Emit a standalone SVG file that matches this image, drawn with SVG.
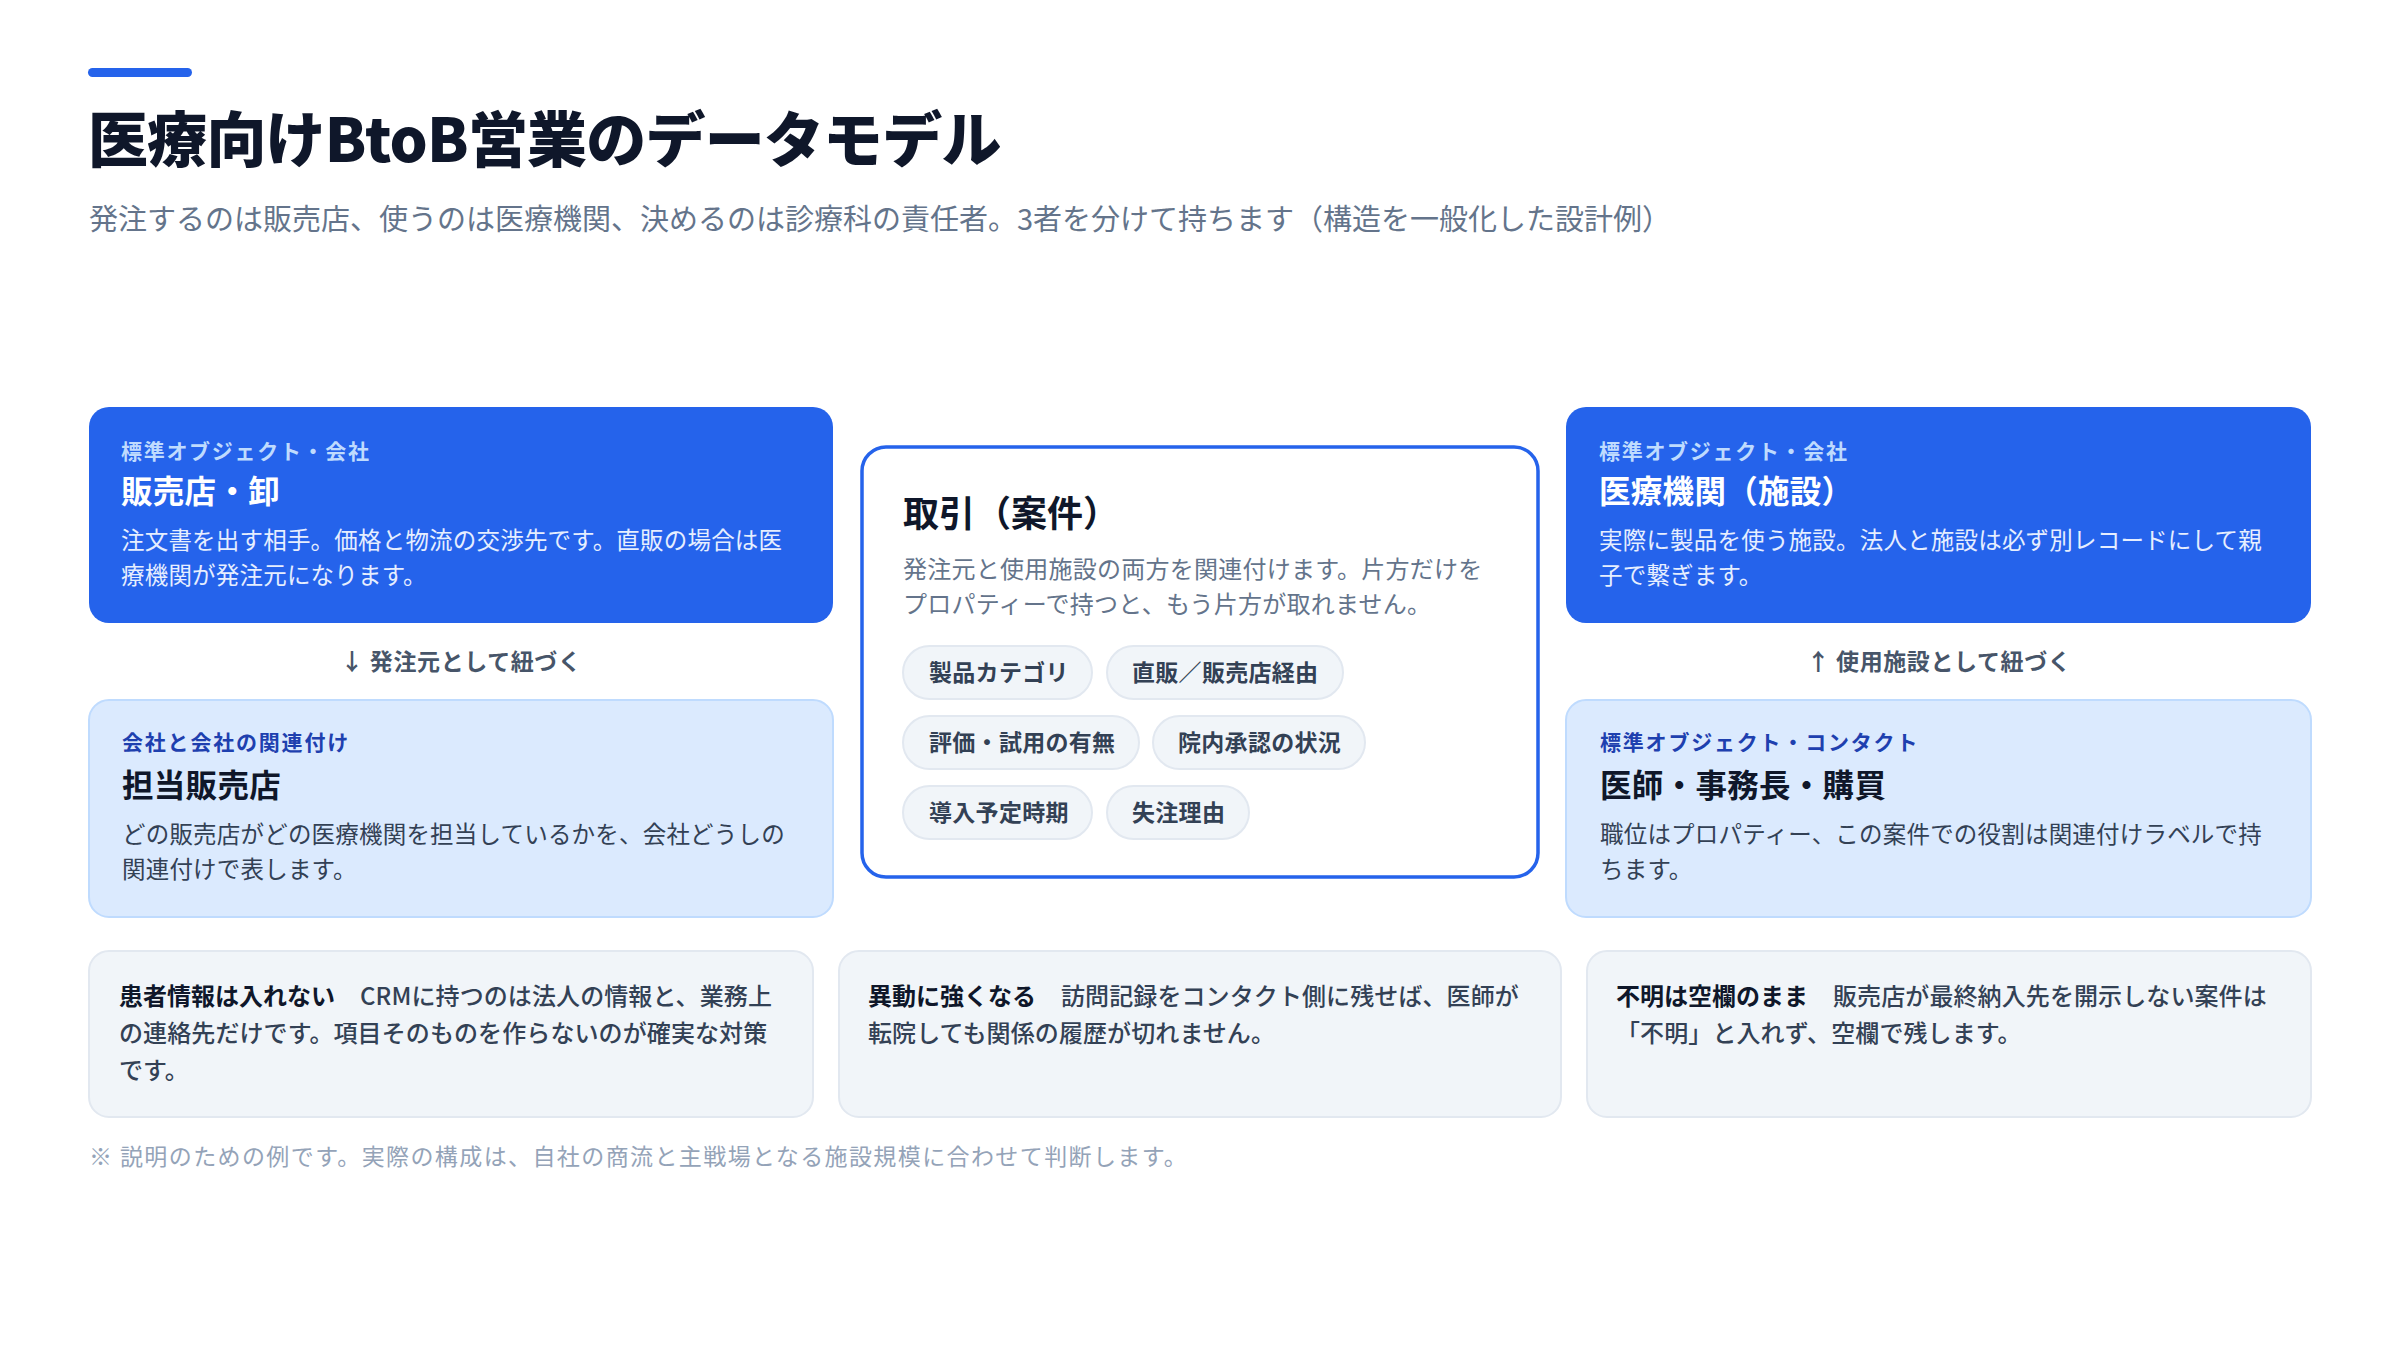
<svg xmlns="http://www.w3.org/2000/svg" width="2400" height="1350" viewBox="0 0 2400 1350">
<style>
text{font-family:"Noto Sans CJK JP","Noto Sans",sans-serif;}
.title{font-size:60px;font-weight:900;fill:#0f172a;letter-spacing:-0.8px;}
.sub{font-size:29px;fill:#64748b;}
.cardB{fill:#2563eb;}
.cardL{fill:#dbeafe;stroke:#bfdbfe;stroke-width:2;}
.cardC{fill:#ffffff;stroke:#2563eb;stroke-width:3.5;}
.note{fill:#f1f5f9;stroke:#e2e8f0;stroke-width:2;}
.chip{fill:#f1f5f9;stroke:#e2e8f0;stroke-width:2;}
.lblB{font-size:21px;font-weight:700;fill:#bfdbfe;letter-spacing:1.7px;}
.hB{font-size:31.5px;font-weight:700;fill:#ffffff;letter-spacing:0.3px;}
.bB{font-size:23.5px;fill:#e6eeff;letter-spacing:0.2px;}
.lblL{font-size:21px;font-weight:700;fill:#1e40af;letter-spacing:1.8px;}
.hL{font-size:31.5px;font-weight:700;fill:#0f172a;letter-spacing:0.3px;}
.bL{font-size:23.5px;fill:#334155;letter-spacing:0.2px;}
.hC{font-size:36px;font-weight:700;fill:#0f172a;}
.bC{font-size:24px;fill:#64748b;letter-spacing:0.25px;}
.chipT{font-size:23px;font-weight:700;fill:#334155;letter-spacing:0.3px;}
.conn{font-size:23px;font-weight:700;fill:#475569;text-anchor:middle;letter-spacing:0.6px;}
.nH{font-size:24px;font-weight:700;fill:#0f172a;}
.nB{font-size:24px;font-weight:500;fill:#334155;letter-spacing:0.1px;}
.foot{font-size:23px;fill:#94a3b8;letter-spacing:1.4px;}
</style>
<rect x="0" y="0" width="2400" height="1350" fill="#ffffff"/>
<g id="header">
<rect x="88" y="68" width="104" height="9" rx="4.5" fill="#2563eb"/>
<text class="title" x="88" y="162">医療向けBtoB営業のデータモデル</text>
<text class="sub" x="89" y="230">発注するのは販売店、使うのは医療機関、決めるのは診療科の責任者。3者を分けて持ちます（構造を一般化した設計例）</text>
</g>
<g id="node-dealer">
<rect class="cardB" x="89" y="407" width="744" height="216" rx="20"/>
<text class="lblB" x="121" y="459">標準オブジェクト・会社</text>
<text class="hB" x="121" y="503">販売店・卸</text>
<text class="bB" x="121" y="549">注文書を出す相手。価格と物流の交渉先です。直販の場合は医</text>
<text class="bB" x="121" y="584">療機関が発注元になります。</text>
</g>
<g id="node-assigned-dealer">
<rect class="cardL" x="89" y="700" width="744" height="217" rx="20"/>
<text class="lblL" x="122" y="750">会社と会社の関連付け</text>
<text class="hL" x="122" y="797">担当販売店</text>
<text class="bL" x="122" y="843">どの販売店がどの医療機関を担当しているかを、会社どうしの</text>
<text class="bL" x="122" y="878">関連付けで表します。</text>
</g>
<g id="node-deal">
<rect class="cardC" x="862" y="447" width="676" height="430" rx="24"/>
<text class="hC" x="903" y="527">取引（案件）</text>
<text class="bC" x="903" y="578">発注元と使用施設の両方を関連付けます。片方だけを</text>
<text class="bC" x="903" y="613">プロパティーで持つと、もう片方が取れません。</text>
<g id="chips">
<rect class="chip" x="903" y="646" width="189" height="53" rx="26.5"/>
<text class="chipT" x="929" y="681">製品カテゴリ</text>
<rect class="chip" x="1107" y="646" width="236" height="53" rx="26.5"/>
<text class="chipT" x="1132" y="681">直販／販売店経由</text>
<rect class="chip" x="903" y="716" width="236" height="53" rx="26.5"/>
<text class="chipT" x="929" y="751">評価・試用の有無</text>
<rect class="chip" x="1153" y="716" width="212" height="53" rx="26.5"/>
<text class="chipT" x="1178" y="751">院内承認の状況</text>
<rect class="chip" x="903" y="786" width="189" height="53" rx="26.5"/>
<text class="chipT" x="929" y="821">導入予定時期</text>
<rect class="chip" x="1107" y="786" width="142" height="53" rx="26.5"/>
<text class="chipT" x="1132" y="821">失注理由</text>
</g>
</g>
<g id="node-facility">
<rect class="cardB" x="1566" y="407" width="745" height="216" rx="20"/>
<text class="lblB" x="1599" y="459">標準オブジェクト・会社</text>
<text class="hB" x="1599" y="503">医療機関（施設）</text>
<text class="bB" x="1599" y="549">実際に製品を使う施設。法人と施設は必ず別レコードにして親</text>
<text class="bB" x="1599" y="584">子で繋ぎます。</text>
</g>
<g id="node-contact">
<rect class="cardL" x="1566" y="700" width="745" height="217" rx="20"/>
<text class="lblL" x="1600" y="750">標準オブジェクト・コンタクト</text>
<text class="hL" x="1600" y="797">医師・事務長・購買</text>
<text class="bL" x="1600" y="843">職位はプロパティー、この案件での役割は関連付けラベルで持</text>
<text class="bL" x="1600" y="878">ちます。</text>
</g>
<g id="connectors">
<text class="conn" x="461" y="670">↓ 発注元として紐づく</text>
<text class="conn" x="1939" y="670">↑ 使用施設として紐づく</text>
</g>
<g id="note-patient">
<rect class="note" x="89" y="951" width="724" height="166" rx="20"/>
<text x="119" y="1005"><tspan class="nH">患者情報は入れない</tspan><tspan class="nB" dx="25">CRMに持つのは法人の情報と、業務上</tspan></text>
<text class="nB" x="119" y="1042">の連絡先だけです。項目そのものを作らないのが確実な対策</text>
<text class="nB" x="119" y="1079">です。</text>
</g>
<g id="note-transfer">
<rect class="note" x="839" y="951" width="722" height="166" rx="20"/>
<text x="868" y="1005"><tspan class="nH">異動に強くなる</tspan><tspan class="nB" dx="25">訪問記録をコンタクト側に残せば、医師が</tspan></text>
<text class="nB" x="868" y="1042">転院しても関係の履歴が切れません。</text>
</g>
<g id="note-unknown">
<rect class="note" x="1587" y="951" width="724" height="166" rx="20"/>
<text x="1616" y="1005"><tspan class="nH">不明は空欄のまま</tspan><tspan class="nB" dx="25">販売店が最終納入先を開示しない案件は</tspan></text>
<text class="nB" x="1616" y="1042">「不明」と入れず、空欄で残します。</text>
</g>
<text class="foot" x="89" y="1165">※ 説明のための例です。実際の構成は、自社の商流と主戦場となる施設規模に合わせて判断します。</text>
</svg>
